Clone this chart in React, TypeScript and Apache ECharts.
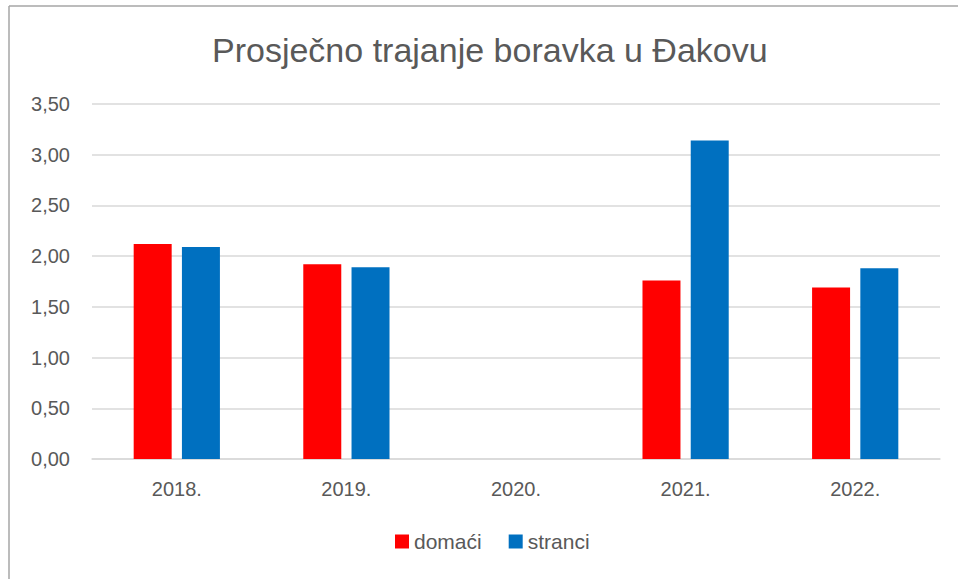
import React, { useEffect, useRef } from "react";
import * as echarts from "echarts";

const categories = ["2018.", "2019.", "2020.", "2021.", "2022."];
const domaci = [2.12, 1.92, null, 1.76, 1.69];
const stranci = [2.09, 1.89, null, 3.14, 1.88];
const seriesNames = ["domaći", "stranci"];
const titleText = "Prosječno trajanje boravka u Đakovu";

const FONT = "'Liberation Sans', sans-serif";

export default function App() {
  const ref = useRef<HTMLDivElement>(null);
  useEffect(() => {
    if (!ref.current) return;
    const chart = echarts.init(ref.current, null, { renderer: "svg" });
    chart.setOption({
      animation: false,
      backgroundColor: "#ffffff",
      textStyle: { fontFamily: FONT },
      title: {
        text: titleText,
        left: 207,
        top: 28,
        textStyle: { fontFamily: FONT, fontSize: 34, fontWeight: "normal", color: "#595959" },
      },
      legend: {
        bottom: 22,
        left: 390,
        itemWidth: 14,
        itemHeight: 14,
        itemGap: 27,
        icon: "rect",
        textStyle: { fontFamily: FONT, fontSize: 21, color: "#595959", padding: [0, 0, 0, 0] },
        data: seriesNames,
      },
      grid: { left: 92, right: 18, top: 104, bottom: 120, containLabel: false },
      xAxis: {
        type: "category",
        data: categories,
        axisLine: { lineStyle: { color: "#d9d9d9", width: 1.5 } },
        axisTick: { show: false },
        axisLabel: { color: "#595959", fontSize: 20, fontFamily: FONT, margin: 20 },
      },
      yAxis: {
        type: "value",
        min: 0,
        max: 3.5,
        interval: 0.5,
        axisLine: { show: false },
        axisTick: { show: false },
        splitLine: { lineStyle: { color: "#d9d9d9", width: 1.5 } },
        axisLabel: {
          color: "#595959",
          fontSize: 20,
          fontFamily: FONT,
          margin: 22,
          formatter: (v: number) => v.toFixed(2).replace(".", ","),
        },
      },
      series: [
        {
          name: seriesNames[0],
          type: "bar",
          data: domaci,
          barWidth: "22.4%",
          barGap: "27%",
          itemStyle: { color: "#FF0000" },
        },
        {
          name: seriesNames[1],
          type: "bar",
          data: stranci,
          barWidth: "22.4%",
          itemStyle: { color: "#0070C0" },
        },
      ],
      graphic: [
        {
          type: "line",
          shape: { x1: 9, y1: 6, x2: 958, y2: 6 },
          style: { stroke: "#a6a6a6", lineWidth: 1.5 },
        },
        {
          type: "line",
          shape: { x1: 9, y1: 6, x2: 9, y2: 579 },
          style: { stroke: "#a6a6a6", lineWidth: 1.5 },
        },
      ],
    });
    return () => chart.dispose();
  }, []);
  return (
    <div
      ref={ref}
      style={{ position: "absolute", left: 0, top: 0, width: 958, height: 579 }}
    />
  );
}
